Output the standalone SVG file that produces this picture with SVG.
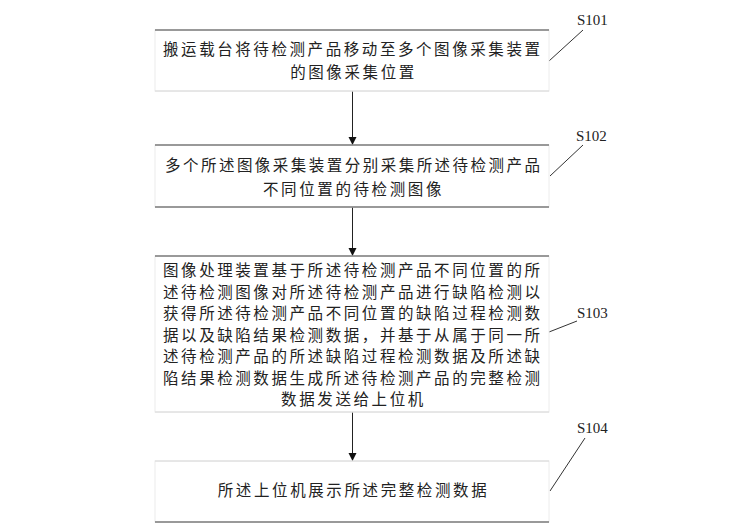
<svg xmlns="http://www.w3.org/2000/svg" width="756" height="531" viewBox="0 0 756 531">
<defs>
<style>
.t{font-family:"Noto Sans CJK SC","Noto Sans",sans-serif;font-size:15.5px;fill:#222;}
.c{text-anchor:middle;letter-spacing:2.6px;}
.lab{font-family:"Liberation Serif","DejaVu Serif",serif;font-size:15px;fill:#222;}
.box{fill:#fff;stroke:#ececec;stroke-width:1;}
.edge{stroke:#7a7a7a;stroke-width:1.3;fill:none;}
.faint{stroke:#d8d8d8;stroke-width:1;fill:none;}
.lead{stroke:#333;stroke-width:1;fill:none;}
.arr{stroke:#222;stroke-width:1;fill:none;marker-end:url(#ah);}
</style>
<marker id="ah" viewBox="0 0 8 10" refX="8" refY="5" markerWidth="8" markerHeight="10" markerUnits="userSpaceOnUse" orient="auto">
<path d="M0,1 L8,5 L0,9 Z" fill="#111"/>
</marker>
</defs>
<rect width="756" height="531" fill="#fff"/>
<g id="connectors">
<line class="arr" x1="352.5" y1="91" x2="352.5" y2="145"/>
<line class="arr" x1="352.5" y1="207" x2="352.5" y2="256"/>
<line class="arr" x1="352.5" y1="412" x2="352.5" y2="461"/>
<line class="lead" x1="549" y1="61" x2="583" y2="30"/>
<line class="lead" x1="550" y1="176" x2="583" y2="145"/>
<line class="lead" x1="549" y1="332" x2="577" y2="321"/>
<line class="lead" x1="550" y1="491" x2="585" y2="438"/>
</g>
<g id="S101">
<rect class="box" x="155" y="30" width="394" height="61"/>
<line class="edge" x1="155" y1="30" x2="549" y2="30"/>
<line class="faint" x1="155" y1="91" x2="549" y2="91"/>
<text class="t" x="163" y="55" textLength="377" lengthAdjust="spacing">搬运载台将待检测产品移动至多个图像采集装置</text>
<text class="t c" x="353.5" y="78">的图像采集位置</text>
<text class="lab" x="577" y="25">S101</text>
</g>
<g id="S102">
<rect class="box" x="155" y="145" width="394" height="62"/>
<line class="edge" x1="155" y1="145" x2="549" y2="145"/>
<line class="edge" x1="155" y1="207" x2="549" y2="207"/>
<text class="t" x="165" y="171" textLength="375" lengthAdjust="spacing">多个所述图像采集装置分别采集所述待检测产品</text>
<text class="t c" x="353.5" y="194.5">不同位置的待检测图像</text>
<text class="lab" x="576" y="141">S102</text>
</g>
<g id="S103">
<rect class="box" x="155" y="256" width="394" height="156"/>
<line class="edge" x1="155" y1="256" x2="549" y2="256"/>
<line class="faint" x1="155" y1="412" x2="549" y2="412"/>
<text class="t" x="163" y="276" textLength="377" lengthAdjust="spacing">图像处理装置基于所述待检测产品不同位置的所</text>
<text class="t" x="163" y="297.5" textLength="377" lengthAdjust="spacing">述待检测图像对所述待检测产品进行缺陷检测以</text>
<text class="t" x="163" y="319" textLength="377" lengthAdjust="spacing">获得所述待检测产品不同位置的缺陷过程检测数</text>
<text class="t" x="163" y="340.5" textLength="377" lengthAdjust="spacing">据以及缺陷结果检测数据，并基于从属于同一所</text>
<text class="t" x="163" y="362" textLength="377" lengthAdjust="spacing">述待检测产品的所述缺陷过程检测数据及所述缺</text>
<text class="t" x="163" y="383.5" textLength="377" lengthAdjust="spacing">陷结果检测数据生成所述待检测产品的完整检测</text>
<text class="t c" x="353.5" y="405">数据发送给上位机</text>
<text class="lab" x="577" y="318">S103</text>
</g>
<g id="S104">
<rect class="box" x="155" y="461" width="394" height="61"/>
<line class="faint" x1="155" y1="461" x2="549" y2="461"/>
<line class="edge" x1="155" y1="522" x2="549" y2="522"/>
<text class="t c" x="353.5" y="496">所述上位机展示所述完整检测数据</text>
<text class="lab" x="577" y="433">S104</text>
</g>
</svg>
